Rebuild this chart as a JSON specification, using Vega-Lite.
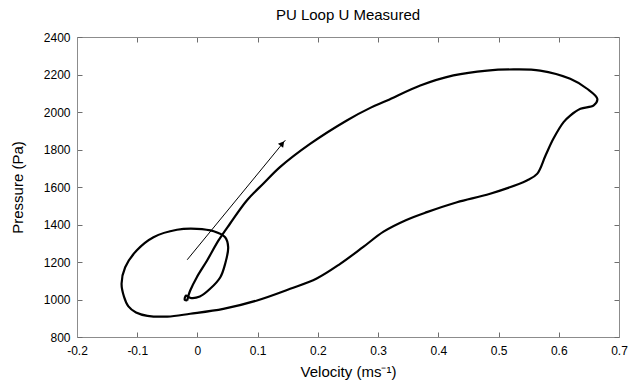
{
  "$schema": "https://vega.github.io/schema/vega-lite/v6.json",
  "autosize": {"type": "none"},
  "width": 542,
  "height": 300,
  "padding": {"left": 77, "top": 37, "right": 10, "bottom": 48},
  "config": {
    "font": "Liberation Sans",
    "view": {"stroke": null},
    "axis": {
      "grid": false,
      "domainColor": "#8c8c8c",
      "tickColor": "#6e6e6e",
      "tickSize": -5,
      "labelColor": "#000000",
      "labelFontSize": 12,
      "labelFont": "Liberation Sans",
      "titleFont": "Liberation Sans",
      "titleFontSize": 15,
      "titleFontWeight": "normal",
      "titleColor": "#000000"
    }
  },
  "title": {"text": "PU Loop U Measured", "fontSize": 15, "fontWeight": "normal", "font": "Liberation Sans", "offset": 8, "color": "#000000"},
  "datasets": {
    "curve": [
      {"i": 1, "v": -0.017, "p": 995},
      {"i": 2, "v": -0.015, "p": 1020},
      {"i": 3, "v": -0.012, "p": 1048},
      {"i": 4, "v": -0.001, "p": 1119},
      {"i": 5, "v": 0.016, "p": 1208},
      {"i": 6, "v": 0.035, "p": 1315},
      {"i": 7, "v": 0.054, "p": 1404},
      {"i": 8, "v": 0.082, "p": 1528},
      {"i": 9, "v": 0.110, "p": 1620},
      {"i": 10, "v": 0.137, "p": 1706},
      {"i": 11, "v": 0.187, "p": 1830},
      {"i": 12, "v": 0.248, "p": 1955},
      {"i": 13, "v": 0.287, "p": 2022},
      {"i": 14, "v": 0.315, "p": 2061},
      {"i": 15, "v": 0.370, "p": 2141},
      {"i": 16, "v": 0.425, "p": 2195},
      {"i": 17, "v": 0.481, "p": 2221},
      {"i": 18, "v": 0.525, "p": 2227},
      {"i": 19, "v": 0.569, "p": 2221},
      {"i": 20, "v": 0.619, "p": 2177},
      {"i": 21, "v": 0.647, "p": 2124},
      {"i": 22, "v": 0.664, "p": 2070},
      {"i": 23, "v": 0.658, "p": 2035},
      {"i": 24, "v": 0.636, "p": 2017},
      {"i": 25, "v": 0.619, "p": 1981},
      {"i": 26, "v": 0.608, "p": 1946},
      {"i": 27, "v": 0.591, "p": 1857},
      {"i": 28, "v": 0.578, "p": 1768},
      {"i": 29, "v": 0.564, "p": 1670},
      {"i": 30, "v": 0.547, "p": 1635},
      {"i": 31, "v": 0.486, "p": 1564},
      {"i": 32, "v": 0.431, "p": 1519},
      {"i": 33, "v": 0.381, "p": 1466},
      {"i": 34, "v": 0.346, "p": 1423},
      {"i": 35, "v": 0.309, "p": 1362},
      {"i": 36, "v": 0.276, "p": 1282},
      {"i": 37, "v": 0.237, "p": 1190},
      {"i": 38, "v": 0.198, "p": 1112},
      {"i": 39, "v": 0.154, "p": 1057},
      {"i": 40, "v": 0.099, "p": 995},
      {"i": 41, "v": 0.043, "p": 950},
      {"i": 42, "v": -0.012, "p": 924},
      {"i": 43, "v": -0.050, "p": 909},
      {"i": 44, "v": -0.083, "p": 913},
      {"i": 45, "v": -0.102, "p": 931},
      {"i": 46, "v": -0.115, "p": 965},
      {"i": 47, "v": -0.122, "p": 1015},
      {"i": 48, "v": -0.126, "p": 1084},
      {"i": 49, "v": -0.120, "p": 1172},
      {"i": 50, "v": -0.101, "p": 1261},
      {"i": 51, "v": -0.073, "p": 1332},
      {"i": 52, "v": -0.034, "p": 1372},
      {"i": 53, "v": -0.001, "p": 1377},
      {"i": 54, "v": 0.027, "p": 1364},
      {"i": 55, "v": 0.046, "p": 1332},
      {"i": 56, "v": 0.051, "p": 1279},
      {"i": 57, "v": 0.046, "p": 1190},
      {"i": 58, "v": 0.038, "p": 1119},
      {"i": 59, "v": 0.021, "p": 1057},
      {"i": 60, "v": 0.004, "p": 1016},
      {"i": 61, "v": -0.012, "p": 1009},
      {"i": 62, "v": -0.019, "p": 1021},
      {"i": 63, "v": -0.021, "p": 998},
      {"i": 64, "v": -0.017, "p": 995}
    ],
    "arrow": [
      {"v": -0.017, "p": 1212, "v2": 0.146, "p2": 1850}
    ],
    "head": [
      {"v": 0.141, "p": 1832}
    ]
  },
  "layer": [
    {
      "data": {"name": "curve"},
      "mark": {"type": "line", "color": "#000000", "strokeWidth": 2.2, "interpolate": "catmull-rom", "clip": true},
      "encoding": {
        "x": {"field": "v", "type": "quantitative", "scale": {"domain": [-0.2, 0.7], "nice": false, "zero": false},
          "axis": {"title": "Velocity (ms⁻¹)", "values": [-0.2, -0.1, 0, 0.1, 0.2, 0.3, 0.4, 0.5, 0.6, 0.7], "labelPadding": 13, "titlePadding": 8, "labelFlush": false, "labelExpr": "'' + datum.value"}},
        "y": {"field": "p", "type": "quantitative", "scale": {"domain": [800, 2400], "nice": false, "zero": false},
          "axis": {"title": "Pressure (Pa)", "values": [800, 1000, 1200, 1400, 1600, 1800, 2000, 2200, 2400], "labelPadding": 12, "titlePadding": 18, "labelFlush": false, "labelExpr": "'' + datum.value"}},
        "order": {"field": "i", "type": "quantitative"}
      }
    },
    {
      "data": {"name": "arrow"},
      "mark": {"type": "rule", "color": "#000000", "strokeWidth": 1},
      "encoding": {
        "x": {"field": "v", "type": "quantitative", "axis": {"orient": "top", "title": null, "labels": false, "values": [-0.2, -0.1, 0, 0.1, 0.2, 0.3, 0.4, 0.5, 0.6, 0.7]}},
        "y": {"field": "p", "type": "quantitative", "axis": {"orient": "right", "title": null, "labels": false, "values": [800, 1000, 1200, 1400, 1600, 1800, 2000, 2200, 2400]}},
        "x2": {"field": "v2"},
        "y2": {"field": "p2"}
      }
    },
    {
      "data": {"name": "head"},
      "mark": {"type": "point", "shape": "triangle-up", "filled": true, "color": "#000000", "size": 45, "angle": 39, "opacity": 1},
      "encoding": {
        "x": {"field": "v", "type": "quantitative", "axis": null},
        "y": {"field": "p", "type": "quantitative", "axis": null}
      }
    }
  ],
  "resolve": {"axis": {"x": "independent", "y": "independent"}}
}
